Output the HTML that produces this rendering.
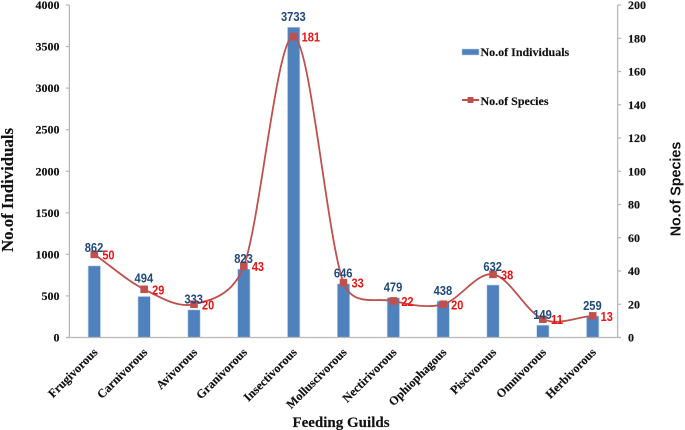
<!DOCTYPE html>
<html lang="en">
<head>
<meta charset="utf-8">
<title>Feeding Guilds Chart</title>
<style>
html,body{margin:0;padding:0;background:#fff;width:685px;height:430px;overflow:hidden}
svg{display:block;filter:blur(0.3px)}
.serif{font-family:"Liberation Serif",serif;font-weight:bold;fill:#111;stroke:#111;stroke-width:0.15}
.sans{font-family:"Liberation Sans",sans-serif;font-weight:bold}
</style>
</head>
<body>
<svg id="chart" width="685" height="430" viewBox="0 0 685 430" xmlns="http://www.w3.org/2000/svg">
  <g id="bars"></g>
  <g id="axes"></g>
  <g id="line"></g>
  <g id="labels"></g>
  <text class="serif" font-size="16.8" text-anchor="middle" transform="translate(13,190) rotate(-90)">No.of Individuals</text>
  <text class="sans" font-size="14.3" fill="#111" text-anchor="middle" transform="translate(680.5,189) rotate(-90)">No.of Species</text>
  <text class="serif" font-size="15" text-anchor="middle" x="341" y="427">Feeding Guilds</text>
  <g>
    <rect x="462" y="49" width="17" height="6" fill="#4f81bd" stroke="#b9cde5" stroke-width="0.6"/>
    <text class="serif" font-size="12" x="480.5" y="56">No.of Individuals</text>
  </g>
  <g>
    <line x1="462" x2="479" y1="100" y2="100" stroke="#c0504d" stroke-width="2"/>
    <rect x="467.5" y="97" width="6" height="6" fill="#c0504d"/>
    <text class="serif" font-size="12" x="480.5" y="105">No.of Species</text>
  </g>
</svg>
<script>
const categories = ["Frugivorous","Carnivorous","Avivorous","Granivorous","Insectivorous","Molluscivorous","Nectirivorous","Ophiophagous","Piscivorous","Omnivorous","Herbivorous"];
const individuals = [862,494,333,823,3733,646,479,438,632,149,259];
const species = [50,29,20,43,181,33,22,20,38,11,13];
const leftTicks = [0,500,1000,1500,2000,2500,3000,3500,4000];
const rightTicks = [0,20,40,60,80,100,120,140,160,180,200];
const raisedLabels = ["Frugivorous","Carnivorous","Piscivorous"];

const NS = "http://www.w3.org/2000/svg";
const plot = {left:69.4, right:617.6, top:5, bottom:337.5};
const xScale = i => plot.left + (i + 0.5) * (plot.right - plot.left) / categories.length;
const yLeft = v => plot.bottom - v / 4000 * (plot.bottom - plot.top);
const yRight = v => plot.bottom - v / 200 * (plot.bottom - plot.top);
function mk(tag, attrs, parent, txt) {
  const el = document.createElementNS(NS, tag);
  for (const k in attrs) el.setAttribute(k, attrs[k]);
  if (txt !== undefined) el.textContent = txt;
  parent.appendChild(el);
  return el;
}
const gBars = document.getElementById("bars");
const gAxes = document.getElementById("axes");
const gLine = document.getElementById("line");
const gLabels = document.getElementById("labels");

individuals.forEach((v, i) => {
  const el = mk("rect", {x: xScale(i) - 6.2, y: yLeft(v), width: 12.4, height: plot.bottom - yLeft(v), fill: "#4f81bd", stroke: "#c6d9f1", "stroke-width": 0.7}, gBars);
  
  
});

const axisColor = "#b8b8b8";
const axisLines = [
  [plot.left, plot.top, plot.left, plot.bottom],
  [plot.right, plot.top, plot.right, plot.bottom],
  [plot.left - 3, plot.bottom, plot.right + 3, plot.bottom]
];
axisLines.forEach(a => {
  const el = mk("line", {x1: a[0], y1: a[1], x2: a[2], y2: a[3], stroke: axisColor, "stroke-width": 1.3}, gAxes);
  
  
});
leftTicks.forEach(t => {
  const y = yLeft(t);
  const tick = mk("line", {x1: plot.left - 3.5, x2: plot.left, y1: y, y2: y, stroke: axisColor, "stroke-width": 1.2}, gAxes);
  
  
  const lab = mk("text", {class: "serif", "font-size": 12, "text-anchor": "end", x: 59.5, y: y + 4}, gAxes, String(t));
  
  
});
rightTicks.forEach(t => {
  const y = yRight(t);
  const tick = mk("line", {x1: plot.right, x2: plot.right + 3.5, y1: y, y2: y, stroke: axisColor, "stroke-width": 1.2}, gAxes);
  
  
  const lab = mk("text", {class: "serif", "font-size": 12, x: 628, y: y + 4}, gAxes, String(t));
  
  
});
categories.forEach((c, i) => {
  const lab = mk("text", {class: "serif", "font-size": 12.2, "text-anchor": "end", transform: "translate(" + (xScale(i) + 4) + ",353) rotate(-45)"}, gAxes, c);
  
  
});

/* Smoothing that follows spreadsheet-style curves: handles shrink near short segments */
const pts = species.map((v, i) => [xScale(i), yRight(v)]);
const dist = (a, b) => Math.hypot(a[0] - b[0], a[1] - b[1]);
let d = "M" + pts[0][0] + " " + pts[0][1];
for (let i = 0; i < pts.length - 1; i++) {
  const first = i === 0, last = i === pts.length - 2;
  const p0 = pts[Math.max(0, i - 1)], p1 = pts[i], p2 = pts[i + 1], p3 = pts[Math.min(pts.length - 1, i + 2)];
  const d02 = dist(p0, p2), d12 = dist(p1, p2), d13 = dist(p1, p3);
  const half = d12 / 2;
  const f1 = d02 / 6 < half ? (first ? 1 / 3 : 1 / 6) : half / d02;
  const f2 = d13 / 6 < half ? (last ? 1 / 3 : 1 / 6) : half / d13;
  const c1 = [p1[0] + (p2[0] - p0[0]) * f1, p1[1] + (p2[1] - p0[1]) * f1];
  const c2 = [p2[0] - (p3[0] - p1[0]) * f2, p2[1] - (p3[1] - p1[1]) * f2];
  d += " C" + c1[0] + " " + c1[1] + " " + c2[0] + " " + c2[1] + " " + p2[0] + " " + p2[1];
}
const curve = mk("path", {d: d, fill: "none", stroke: "#c0504d", "stroke-width": 1.8}, gLine);


pts.forEach(p => {
  const m = mk("rect", {x: p[0] - 3.8, y: p[1] - 3.8, width: 7.6, height: 7.6, fill: "#c0504d"}, gLine);
  
  
});

individuals.forEach((v, i) => {
  const lift = raisedLabels.includes(categories[i]) ? 18.5 : 10.7;
  const s = String(v);
  const lab = mk("text", {class: "sans", "font-size": 12.5, fill: "#1f497d", "text-anchor": "middle", textLength: s.length * 6.2, lengthAdjust: "spacingAndGlyphs", x: xScale(i) - 0.3, y: yLeft(v) - lift + 4.5}, gLabels, s);
  
  
});
species.forEach((v, i) => {
  const s = String(v);
  const lab = mk("text", {class: "sans", "font-size": 12.5, fill: "#ee1111", textLength: s.length * 6.1, lengthAdjust: "spacingAndGlyphs", x: xScale(i) + 8, y: yRight(v) + 5}, gLabels, s);
  
  
});
</script>
</body>
</html>
